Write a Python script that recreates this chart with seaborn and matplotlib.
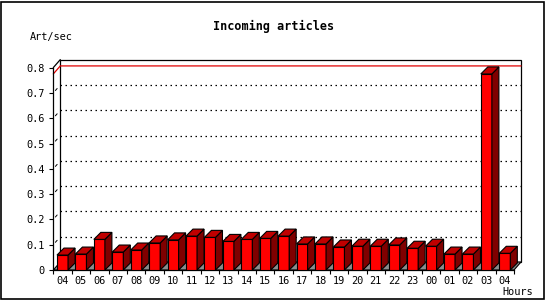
import matplotlib
matplotlib.use('Agg')
import matplotlib.pyplot as plt
from matplotlib.patches import Polygon, Rectangle
import seaborn as sns
import pandas as pd

# hourly incoming article rate (art/sec)
hours = ['04', '05', '06', '07', '08', '09', '10', '11', '12', '13', '14', '15', '16',
         '17', '18', '19', '20', '21', '22', '23', '00', '01', '02', '03', '04']
rate = [0.059, 0.063, 0.121, 0.071, 0.079, 0.107, 0.119, 0.134, 0.129, 0.113, 0.121,
        0.125, 0.134, 0.103, 0.103, 0.091, 0.094, 0.094, 0.099, 0.086, 0.094, 0.063,
        0.063, 0.775, 0.066]
yticks = [0, 0.1, 0.2, 0.3, 0.4, 0.5, 0.6, 0.7, 0.8]
ylabels = ['0', '0.1', '0.2', '0.3', '0.4', '0.5', '0.6', '0.7', '0.8']

df = pd.DataFrame({'slot': range(len(rate)), 'rate': rate})

sns.set_style('white')
plt.rcParams['font.family'] = ['DejaVu Sans Mono']
plt.rcParams['text.color'] = 'black'
plt.rcParams['xtick.color'] = 'black'
plt.rcParams['ytick.color'] = 'black'
plt.rcParams['axes.edgecolor'] = 'black'
fig = plt.figure(figsize=(5.5, 3), dpi=100, facecolor='white')
ax = fig.add_axes([53.3 / 550, 30 / 300, 460.7 / 550, 202.4 / 300])
ax.set_facecolor('none')

sns.barplot(data=df, x='slot', y='rate', color='#ff0000', saturation=1, width=0.6,
            edgecolor='black', linewidth=0.8, errorbar=None, ax=ax)
ax.set_xlim(-0.5, len(rate) - 0.5)
ax.set_ylim(0, 0.8)

# pixel offsets -> data units for the 3d look
p0 = ax.transData.transform((0, 0))
p1 = ax.transData.transform((1, 1))
ux = 1 / (p1[0] - p0[0])
uy = 1 / (p1[1] - p0[1])
bdx, bdy = 7 * ux, 7 * uy      # bar depth
wdx, wdy = 7 * ux, 8 * uy      # wall depth
x0, x1 = -0.5, len(rate) - 0.5
ytop = 0.8

# back plane
ax.add_patch(Rectangle((x0 + wdx, wdy), x1 - x0, ytop, facecolor='white', edgecolor='black',
                       lw=0.9, zorder=0.1, clip_on=False))
# dotted grid on the back plane
for v in yticks[1:-1]:
    ax.plot([x0 + wdx, x1 + wdx], [v + wdy, v + wdy], color='black', lw=0.9,
            ls=(0, (1.2, 2.8)), zorder=0.2, clip_on=False)
    ax.plot([x0 + wdx * 0.3, x0 + wdx * 0.55], [v + wdy * 0.3, v + wdy * 0.55],
            color='black', lw=0.7, zorder=0.2, clip_on=False)
# max line
vmax = max(rate)
ax.plot([x0, x0 + wdx, x1 + wdx], [vmax, vmax + wdy, vmax + wdy], color='#e00000', lw=0.9,
        zorder=0.3, clip_on=False)
# left wall top edge
ax.plot([x0, x0 + wdx], [ytop, ytop + wdy], color='black', lw=0.9, zorder=0.3, clip_on=False)
# floor
ax.add_patch(Polygon([(x0, 0), (x1, 0), (x1 + wdx, wdy), (x0 + wdx, wdy)], closed=True,
                     facecolor='#8c8c8c', edgecolor='black', lw=0.8, zorder=0.4, clip_on=False))

# 3d bar sides and tops
for p in ax.patches:
    if not isinstance(p, Rectangle) or p.get_zorder() < 1 or p.get_height() == ytop:
        continue
    bx, bw, bh = p.get_x(), p.get_width(), p.get_height()
    p.set_zorder(3)
    side = [(bx + bw, 0), (bx + bw + bdx, bdy), (bx + bw + bdx, bh + bdy), (bx + bw, bh)]
    top = [(bx, bh), (bx + bw, bh), (bx + bw + bdx, bh + bdy), (bx + bdx, bh + bdy)]
    ax.add_patch(Polygon(side, closed=True, facecolor='#800000', edgecolor='black', lw=0.8,
                         zorder=3, clip_on=False))
    ax.add_patch(Polygon(top, closed=True, facecolor='#c00000', edgecolor='black', lw=0.8,
                         zorder=3, clip_on=False))

for s in ['top', 'right']:
    ax.spines[s].set_visible(False)
ax.spines['left'].set_linewidth(0.9)
ax.spines['bottom'].set_linewidth(0.9)
ax.spines['left'].set_zorder(4)

ax.set_yticks(yticks, ylabels)
ax.tick_params(axis='y', direction='out', length=3, width=0.8, pad=3, labelsize=7.4,
               left=True, colors='black')
ax.set_xticks(range(len(hours)), hours)
ax.set_xticks([i - 0.5 for i in range(len(hours) + 1)], minor=True)
ax.tick_params(axis='x', which='major', length=0, pad=4, labelsize=7.4, colors='black')
ax.tick_params(axis='x', which='minor', direction='out', length=3, width=0.8, bottom=True,
               colors='black')
ax.set_xlabel('')
ax.set_ylabel('')

fig.text(274 / 550, 1 - 26.7 / 300, 'Incoming articles', ha='center', va='center',
         fontsize=8.5, fontweight='bold', color='black')
fig.text(30 / 550, 1 - 36.7 / 300, 'Art/sec', ha='left', va='center', fontsize=7.4,
         color='black')
fig.text(533 / 550, 1 - 292.3 / 300, 'Hours', ha='right', va='center', fontsize=7.4,
         color='black')

fig.add_artist(Rectangle((0.5 / 550, 1.5 / 300), 543.5 / 550, 297 / 300, transform=fig.transFigure,
                         fill=False, edgecolor='black', lw=1.2))

fig.savefig('out.png', dpi=100, facecolor='white')
